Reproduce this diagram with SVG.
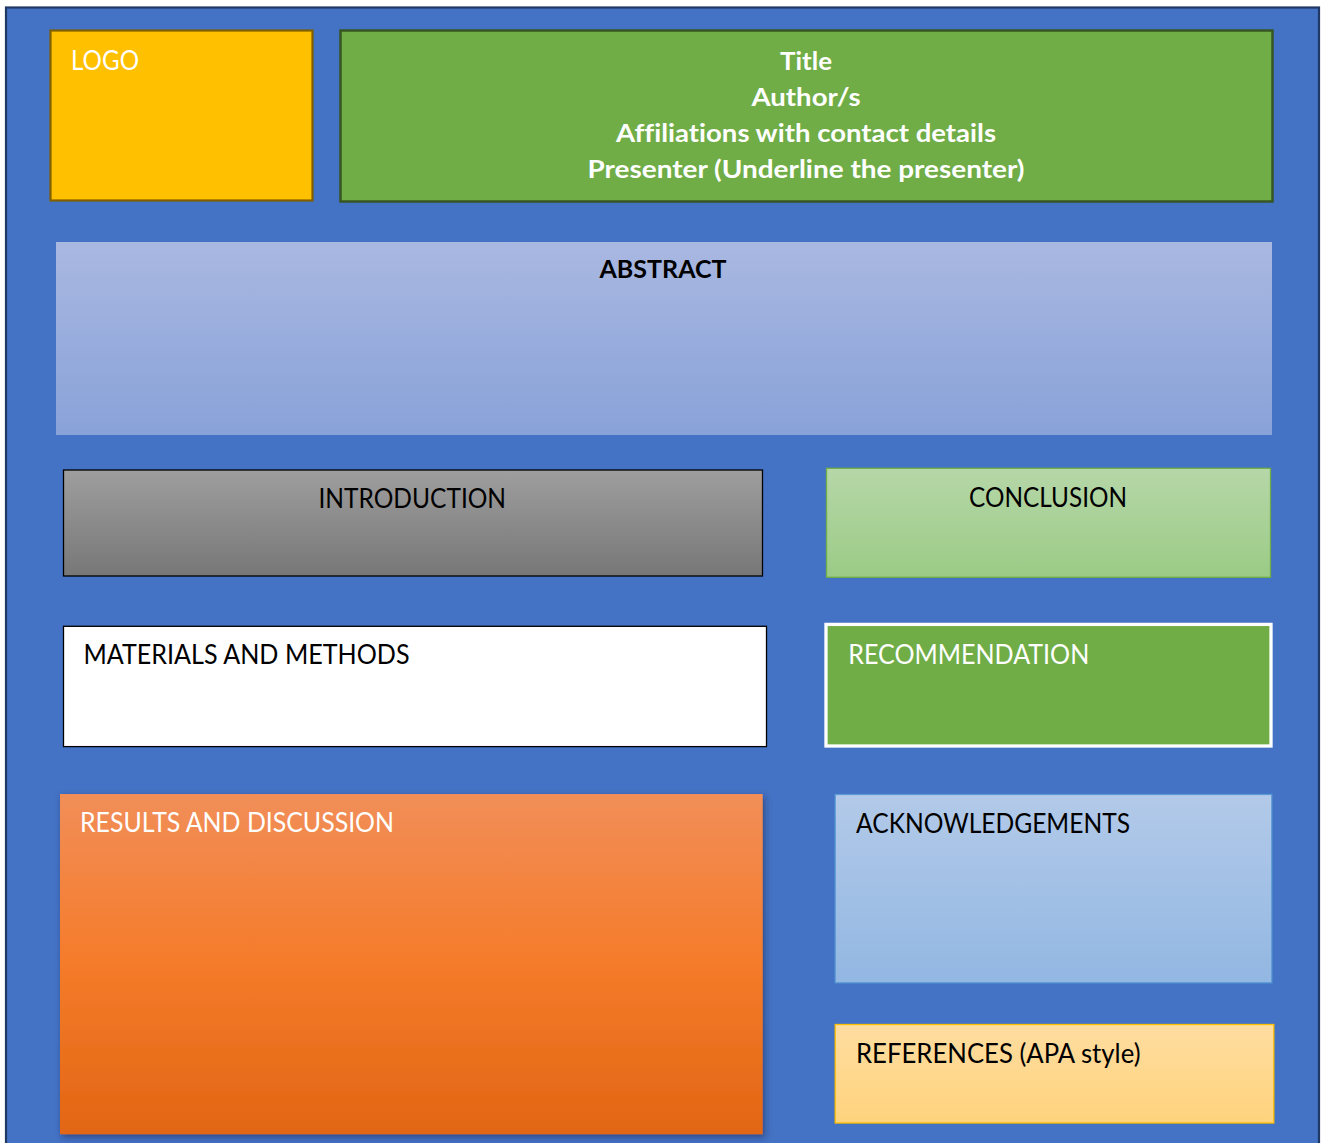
<svg xmlns="http://www.w3.org/2000/svg" width="1326" height="1143" viewBox="0 0 1326 1143">
  <defs>
    <linearGradient id="gAbs" x1="0" y1="0" x2="0" y2="1"><stop offset="0" stop-color="#a9b8e1"/><stop offset="1" stop-color="#89a2d9"/></linearGradient>
    <linearGradient id="gIntro" x1="0" y1="0" x2="0" y2="1"><stop offset="0" stop-color="#9e9e9e"/><stop offset="1" stop-color="#777777"/></linearGradient>
    <linearGradient id="gConc" x1="0" y1="0" x2="0" y2="1"><stop offset="0" stop-color="#b6d7a8"/><stop offset="1" stop-color="#9bcb86"/></linearGradient>
    <linearGradient id="gRes" x1="0" y1="0" x2="0" y2="1"><stop offset="0" stop-color="#f18e58"/><stop offset="0.5" stop-color="#f57b2a"/><stop offset="1" stop-color="#e26614"/></linearGradient>
    <linearGradient id="gAck" x1="0" y1="0" x2="0" y2="1"><stop offset="0" stop-color="#b3cae9"/><stop offset="1" stop-color="#92b7e2"/></linearGradient>
    <linearGradient id="gRef" x1="0" y1="0" x2="0" y2="1"><stop offset="0" stop-color="#ffdda0"/><stop offset="1" stop-color="#ffd37d"/></linearGradient>
    <filter id="shadow" x="-5%" y="-5%" width="112%" height="115%">
      <feDropShadow dx="2" dy="3" stdDeviation="3" flood-color="#1a2a50" flood-opacity="0.55"/>
    </filter>
  </defs>
  <style>
    text { font-family: Lato, "Open Sans", "Liberation Sans", sans-serif; font-size: 26px; font-variant-ligatures: none; }
    .w { fill: #ffffff; }
    .k { fill: #000000; }
    .b { font-weight: bold; font-size: 24.5px; }
    .mid { text-anchor: middle; }
  </style>
  <rect x="0" y="0" width="1326" height="1143" fill="#ffffff"/>
  <g id="panel">
    <rect x="6" y="7.5" width="1313" height="1150" fill="#4472c4" stroke="#203864" stroke-width="2.2"/>
  </g>
  <g id="connectors"></g>
  <g id="logo">
    <rect x="50.5" y="30.5" width="262" height="170" fill="#ffc000" stroke="#7f6000" stroke-width="2.2"/>
    <text class="w" x="71" y="69.5" textLength="68" lengthAdjust="spacingAndGlyphs">LOGO</text>
  </g>
  <g id="title">
    <rect x="340.5" y="30.5" width="932" height="171" fill="#70ad47" stroke="#375623" stroke-width="2.5"/>
    <text class="w b mid" x="806" y="70" textLength="52" lengthAdjust="spacingAndGlyphs">Title</text>
    <text class="w b mid" x="806" y="106" textLength="109" lengthAdjust="spacingAndGlyphs">Author/s</text>
    <text class="w b mid" x="806" y="142" textLength="380" lengthAdjust="spacingAndGlyphs">Affiliations with contact details</text>
    <text class="w b mid" x="806" y="178" textLength="437" lengthAdjust="spacingAndGlyphs">Presenter (Underline the presenter)</text>
  </g>
  <g id="abstract">
    <rect x="56" y="242" width="1216" height="193" fill="url(#gAbs)"/>
    <text class="k b mid" x="663" y="278" textLength="127" lengthAdjust="spacingAndGlyphs">ABSTRACT</text>
  </g>
  <g id="introduction">
    <rect x="63.5" y="470" width="699" height="106" fill="url(#gIntro)" stroke="#000000" stroke-width="1.3"/>
    <text class="k mid" x="412.3" y="508.3" textLength="187.6" lengthAdjust="spacingAndGlyphs">INTRODUCTION</text>
  </g>
  <g id="conclusion">
    <rect x="826.5" y="468.3" width="444" height="109" fill="url(#gConc)" stroke="#70ad47" stroke-width="1.3"/>
    <text class="k mid" x="1048" y="507.3" textLength="158" lengthAdjust="spacingAndGlyphs">CONCLUSION</text>
  </g>
  <g id="materials">
    <rect x="63.5" y="626.3" width="703" height="120.3" fill="#ffffff" stroke="#000000" stroke-width="1.3"/>
    <text class="k" x="83.5" y="664.3" textLength="326" lengthAdjust="spacingAndGlyphs">MATERIALS AND METHODS</text>
  </g>
  <g id="recommendation">
    <rect x="826" y="624.4" width="445" height="121.6" fill="#70ad47" stroke="#ffffff" stroke-width="3.3"/>
    <text class="w" x="848.3" y="664.3" textLength="241" lengthAdjust="spacingAndGlyphs">RECOMMENDATION</text>
  </g>
  <g id="results">
    <rect x="60" y="794" width="702.7" height="340.3" fill="url(#gRes)" filter="url(#shadow)"/>
    <text class="w" x="80" y="831.7" textLength="314" lengthAdjust="spacingAndGlyphs">RESULTS AND DISCUSSION</text>
  </g>
  <g id="acknowledgements">
    <rect x="835.2" y="794.5" width="436.6" height="188.3" fill="url(#gAck)" stroke="#5b9bd5" stroke-width="1.2"/>
    <text class="k" x="856" y="832.7" textLength="274" lengthAdjust="spacingAndGlyphs">ACKNOWLEDGEMENTS</text>
  </g>
  <g id="references">
    <rect x="835.2" y="1024.5" width="438.6" height="98.5" fill="url(#gRef)" stroke="#ffc000" stroke-width="1.3"/>
    <text class="k" x="856" y="1063.3" textLength="284.5" lengthAdjust="spacingAndGlyphs">REFERENCES (APA style)</text>
  </g>
</svg>
